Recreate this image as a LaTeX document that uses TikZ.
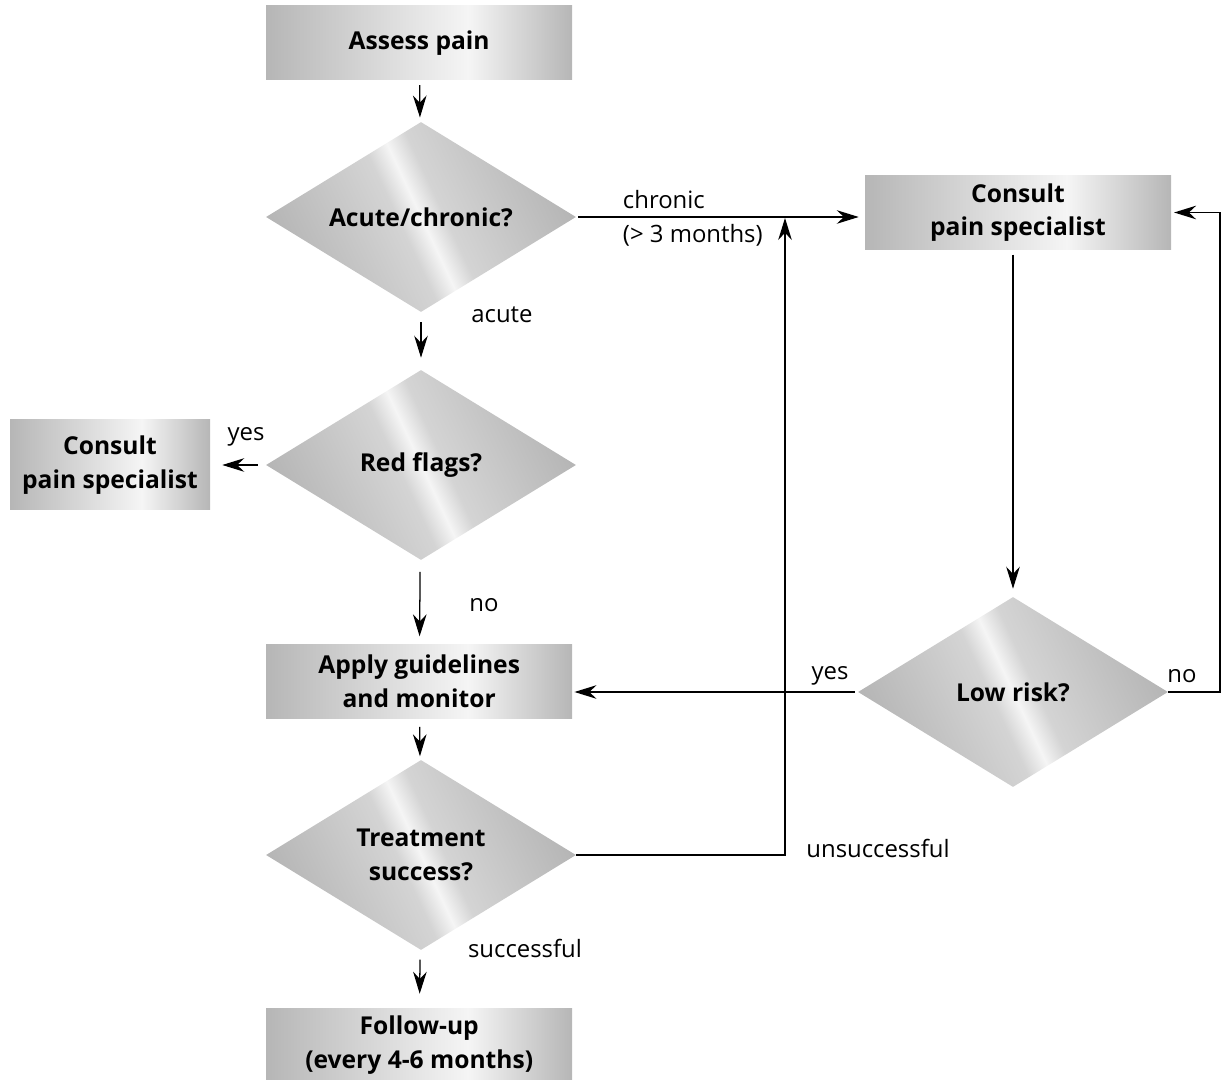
\documentclass[tikz,border=0pt]{standalone}
\usepackage{fontspec}
\setmainfont{Open Sans}
\usetikzlibrary{shapes.geometric, arrows.meta, positioning}
\definecolor{metaldark}{RGB}{182,182,182}
\definecolor{metalmid}{RGB}{212,212,212}
\definecolor{metallight}{RGB}{245,245,245}
\pgfdeclarehorizontalshading{metal}{100bp}{color(0bp)=(metaldark); color(25bp)=(metaldark); color(58bp)=(metallight); color(75bp)=(metaldark); color(100bp)=(metaldark)}
\pgfdeclarehorizontalshading{metaldiamond}{100bp}{color(0bp)=(metaldark); color(25bp)=(metaldark); color(46bp)=(metalmid); color(50bp)=(metallight); color(54bp)=(metalmid); color(75bp)=(metaldark); color(100bp)=(metaldark)}

\begin{document}
\begin{tikzpicture}[
  box/.style={rectangle, shading=metal, minimum width=7.65cm, minimum height=1.85cm, inner sep=2pt, align=center, font=\bfseries\fontsize{17.5}{24}\selectfont},
  decision/.style={diamond, aspect=1.63, shading=metaldiamond, shading angle=25, minimum width=7.75cm, minimum height=4.75cm, inner sep=0pt, align=center, font=\bfseries\fontsize{17.5}{24}\selectfont},
  lab/.style={font=\fontsize{17}{24}\selectfont},
  arr/.style={-{Stealth[length=5.5mm, width=3.4mm, inset=1.8mm]}, line width=0.9pt},
]
  \useasboundingbox (0,0) rectangle (30.525,-27);

  % Left column
  \node[box] (assess) at (10.48,-1.075) {Assess pain};
  \node[decision] (acute) at (10.525,-5.425) {Acute/chronic?};
  \node[decision] (redflags) at (10.525,-11.625) {Red flags?};
  \node[box] (apply) at (10.48,-17.04) {Apply guidelines\\and monitor};
  \node[decision] (treat) at (10.525,-21.375) {Treatment\\success?};
  \node[box] (followup) at (10.48,-26.125) {Follow-up\\(every 4-6 months)};

  % Specialists
  \node[box, minimum width=5cm, minimum height=2.25cm] (consultL) at (2.75,-11.625) {Consult\\pain specialist};
  \node[box] (consultR) at (25.45,-5.3125) {Consult\\pain specialist};
  \node[decision] (lowrisk) at (25.325,-17.3) {Low risk?};

  % Main flow
  \draw[arr, shorten <=0.12cm, shorten >=0.12cm] (assess) -- (acute);
  \draw[arr, shorten <=0.25cm, shorten >=0.3cm] (acute) -- (redflags);
  \draw[arr, shorten <=0.3cm, shorten >=0.2cm] (redflags) -- (apply);
  \draw[arr, shorten <=0.2cm, shorten >=0.1cm] (apply) -- (treat);
  \draw[arr, shorten <=0.25cm, shorten >=0.35cm] (treat) -- (followup);
  \draw[arr, shorten <=0.2cm, shorten >=0.3cm] (redflags) -- (consultL);

  % Chronic branch
  \draw[arr, shorten <=0.05cm, shorten >=0.15cm] (acute.east) -- (acute.east -| consultR.west);
  \coordinate (upjoin) at (19.625,-5.45);
  \draw[arr] (treat.east) -| (upjoin);
  \draw[arr, shorten <=0.12cm, shorten >=0.2cm] (consultR.south -| lowrisk.north) -- (lowrisk.north);
  \draw[arr, shorten <=0.08cm, shorten >=0.05cm] (lowrisk.west) -- (lowrisk.west -| apply.east);
  \coordinate (noback) at (30.5,-17.3);
  \draw[arr, shorten >=0.07cm] (lowrisk.east) -- (noback) |- (consultR.east);

  % Labels
  \node[lab, align=left, anchor=west] (chroniclab) at (15.45,-5.45) {chronic\\(> 3 months)};
  \node[lab] (acutelab) at (12.55,-7.875) {acute};
  \node[lab] (yeslabL) at (6.15,-10.925) {yes};
  \node[lab] (nolabL) at (12.1,-15.125) {no};
  \node[lab] (yeslabR) at (20.75,-16.9) {yes};
  \node[lab] (nolabR) at (29.55,-16.9) {no};
  \node[lab] (unsucclab) at (21.95,-21.2) {unsuccessful};
  \node[lab] (succlab) at (13.125,-23.7) {successful};
\end{tikzpicture}
\end{document}
